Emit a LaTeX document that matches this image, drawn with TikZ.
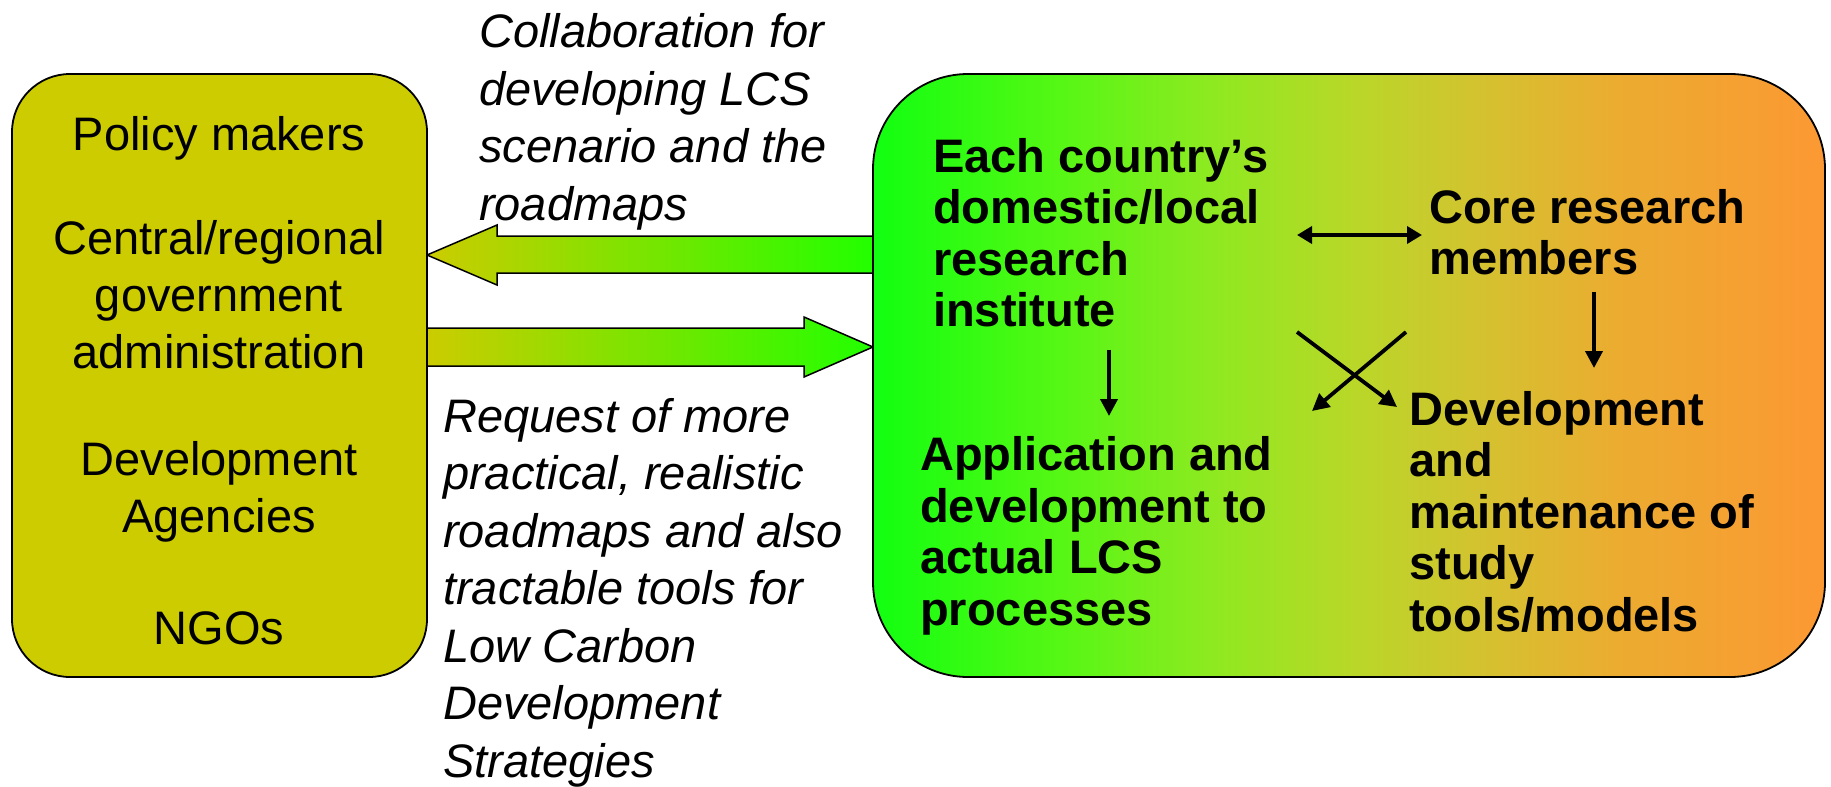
\documentclass[tikz,border=0pt]{standalone}
\usepackage{fontspec}
\setmainfont{Liberation Sans}
\usetikzlibrary{arrows.meta}
\definecolor{boxolive}{RGB}{204,204,0}
\definecolor{arrgreen}{RGB}{34,255,0}
\pgfdeclarehorizontalshading{rboxshade}{100bp}{%
  rgb(0bp)=(0.067,1,0.067);
  rgb(25bp)=(0.067,1,0.067);
  rgb(34bp)=(0.314,0.973,0.078);
  rgb(42.5bp)=(0.549,0.918,0.125);
  rgb(50bp)=(0.722,0.847,0.157);
  rgb(57bp)=(0.831,0.761,0.188);
  rgb(64bp)=(0.922,0.675,0.188);
  rgb(75bp)=(0.988,0.596,0.2);
  rgb(100bp)=(0.988,0.596,0.2)}
\tikzset{
  leftbox/.style={draw=black, line width=1.8pt, fill=boxolive, rounded corners=58pt, inner sep=0pt},
  rightbox/.style={draw=black, line width=1.8pt, shading=rboxshade, rounded corners=95pt, inner sep=0pt},
  blockarrow/.style={draw=black, line width=1.5pt, left color=boxolive, right color=arrgreen},
  plain/.style={font=\fontsize{47}{57}\selectfont, align=center, anchor=base, inner sep=0pt},
  ital/.style={font=\fontsize{47}{57.5}\selectfont\itshape, align=left, anchor=base west, inner sep=0pt},
  bld/.style={font=\fontsize{47}{51.5}\selectfont\bfseries, align=left, anchor=base west, inner sep=0pt},
  conn/.style={line width=3.8pt, -{Triangle[length=17pt,width=17pt]}},
  dconn/.style={line width=3.6pt, {Triangle[length=15pt,width=17pt]}-{Triangle[length=15pt,width=17pt]}},
}
\begin{document}
\begin{tikzpicture}[x=1pt,y=-1pt]
\useasboundingbox (0,0) rectangle (1831,787);
% block arrows
\path[blockarrow] (873,236) -- (497,236) -- (497,225) -- (427,255) -- (497,285) -- (497,273) -- (873,273) -- cycle;
\path[blockarrow] (427,328) -- (804,328) -- (804,317) -- (873,347) -- (804,377) -- (804,366) -- (427,366) -- cycle;
% boxes
\node[leftbox, minimum width=415pt, minimum height=603pt] (L) at (219.5,375.5) {};
\node[rightbox, minimum width=952pt, minimum height=603pt] (R) at (1349,375.5) {};
% left box text (base anchor = last line's baseline)
\node[plain] (pm) at (219,150) {Policy makers};
\node[plain] (gov) at (219,368) {Central/regional\\government\\administration};
\node[plain] (da) at (219,532) {Development\\Agencies};
\node[plain] (ngo) at (219,644) {NGOs};
% italic labels
\node[ital] (collab) at (479,220) {Collaboration for\\developing LCS\\scenario and the\\roadmaps};
\node[ital] (req) at (443,777) {Request of more\\practical, realistic\\roadmaps and also\\tractable tools for\\Low Carbon\\Development\\Strategies};
% right box text
\node[bld] (inst) at (933,326.5) {Each country’s\\domestic/local\\research\\institute};
\node[bld] (core) at (1429,274.5) {Core research\\members};
\node[bld] (app) at (920,625) {Application and\\development to\\actual LCS\\processes};
\node[bld] (dev) at (1409,631) {Development\\and\\maintenance of\\study\\tools/models};
% connectors
\coordinate (d1) at (1297,235);
\coordinate (d2) at (1422,235);
\draw[dconn] (d1) -- (d2);
\coordinate (i1) at (1109,350);
\coordinate (i2) at (1109,416);
\draw[conn] (i1) -- (i2);
\coordinate (c1) at (1594,292);
\coordinate (c2) at (1594,368);
\draw[conn] (c1) -- (c2);
\coordinate (x1) at (1297,332);
\coordinate (x2) at (1397,407);
\draw[conn] (x1) -- (x2);
\coordinate (y1) at (1406,332);
\coordinate (y2) at (1312,411);
\draw[conn] (y1) -- (y2);
\end{tikzpicture}
\end{document}
